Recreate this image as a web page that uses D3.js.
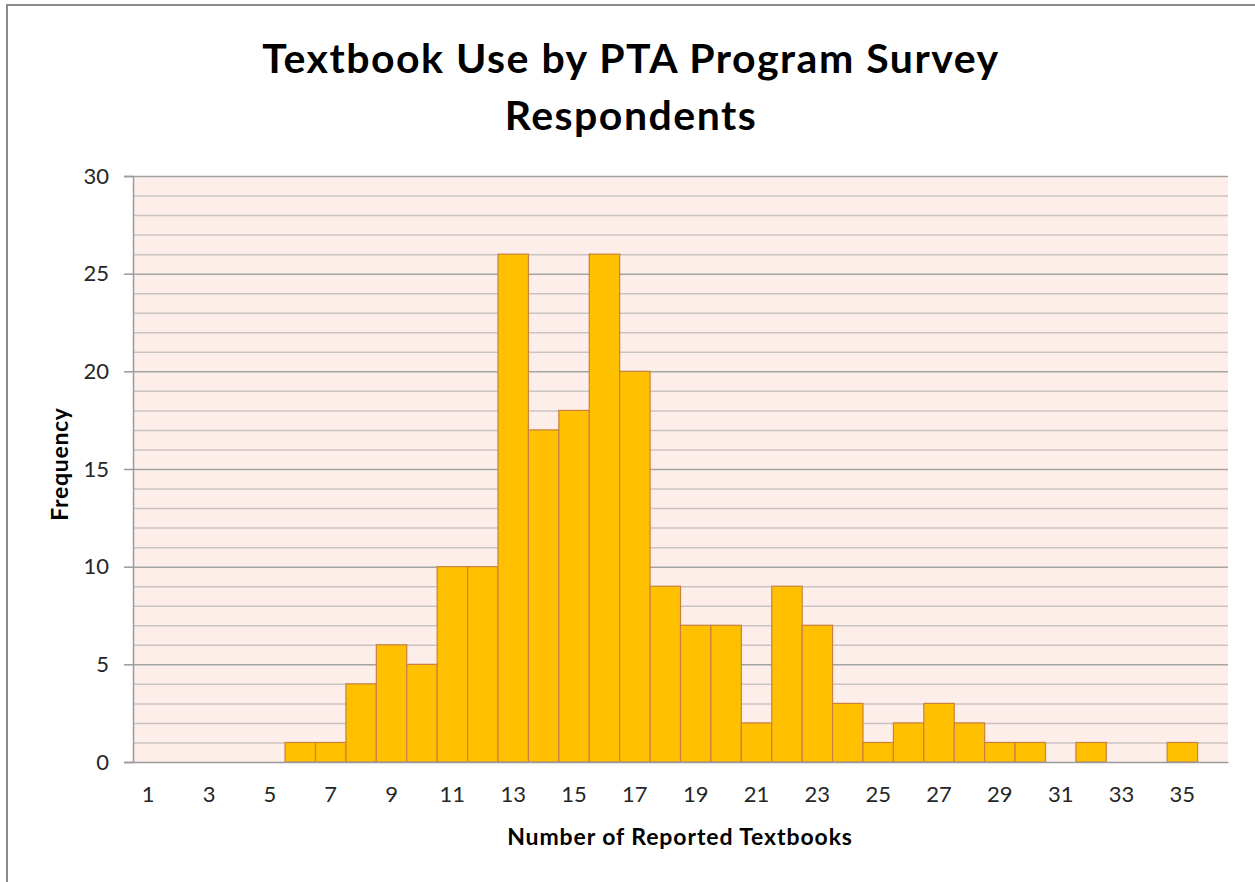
<!DOCTYPE html>
<html>
<head>
<meta charset="utf-8">
<script src="https://cdn.jsdelivr.net/npm/d3@7"></script>
<style>
  body { margin: 0; background: #fff; }
  svg { display: block; }
</style>
</head>
<body>
<div id="chart"></div>
<script>
// number of textbooks reported (1..36) and how many respondents reported it
const textbooks = d3.range(1, 37);
const frequency = [0, 0, 0, 0, 0, 1, 1, 4, 6, 5, 10, 10, 26, 17, 18, 26, 20, 9,
  7, 7, 2, 9, 7, 3, 1, 2, 3, 2, 1, 1, 0, 1, 0, 0, 1, 0];
const xTickLabels = [1, 3, 5, 7, 9, 11, 13, 15, 17, 19, 21, 23, 25, 27, 29, 31, 33, 35];
const yTicks = [0, 5, 10, 15, 20, 25, 30];

const width = 1255;
const height = 882;
const margin = { top: 176, right: 27, bottom: 120, left: 133 };
const font = 'Lato, "Open Sans", sans-serif';

const svg = d3.select('#chart')
  .append('svg')
  .attr('width', width)
  .attr('height', height);

// chart frame (only top and left edges are inside the picture)
svg.append('rect')
  .attr('x', 7)
  .attr('y', 5)
  .attr('width', width + 20)
  .attr('height', height + 20)
  .attr('fill', 'none')
  .attr('stroke', '#8c8c8c')
  .attr('stroke-width', 2);

const x = d3.scaleBand()
  .domain(textbooks)
  .range([margin.left, width - margin.right])
  .padding(0);

const y = d3.scaleLinear()
  .domain([0, 30])
  .range([height - margin.bottom, margin.top]);

// plot background
svg.append('rect')
  .attr('x', margin.left)
  .attr('y', margin.top)
  .attr('width', width - margin.left - margin.right)
  .attr('height', height - margin.top - margin.bottom)
  .attr('fill', '#fdeee9');

// minor gridlines every 1, major every 5
svg.append('g')
  .selectAll('line')
  .data(d3.range(1, 31))
  .join('line')
  .attr('x1', margin.left)
  .attr('x2', width - margin.right)
  .attr('y1', d => y(d) + 0.5)
  .attr('y2', d => y(d) + 0.5)
  .attr('stroke', d => (d % 5 === 0 ? '#a3a3a3' : '#c9c4c4'))
  .attr('stroke-width', 1.5);

// bars
svg.append('g')
  .selectAll('rect')
  .data(textbooks.map((t, i) => ({ t, v: frequency[i] })).filter(d => d.v > 0))
  .join('rect')
  .attr('x', d => x(d.t))
  .attr('y', d => y(d.v))
  .attr('width', x.bandwidth())
  .attr('height', d => y(0) - y(d.v))
  .attr('fill', '#ffc000')
  .attr('stroke', '#c8823f')
  .attr('stroke-width', 1.2);

// y axis
const yAxis = svg.append('g')
  .attr('transform', `translate(${margin.left},0)`)
  .call(d3.axisLeft(y).tickValues(yTicks).tickSize(9).tickPadding(15));
yAxis.select('.domain').attr('stroke', '#9a9a9a').attr('stroke-width', 1.5);
yAxis.selectAll('.tick line').attr('stroke', '#9a9a9a').attr('stroke-width', 1.5);
yAxis.selectAll('text')
  .attr('font-family', font)
  .attr('font-size', 22)
  .attr('fill', '#262626');

// x axis
const xAxis = svg.append('g')
  .attr('transform', `translate(0,${height - margin.bottom})`)
  .call(d3.axisBottom(x).tickValues(xTickLabels).tickSize(0).tickPadding(24));
xAxis.select('.domain').attr('stroke', '#9a9a9a').attr('stroke-width', 1.5);
xAxis.selectAll('text')
  .attr('font-family', font)
  .attr('font-size', 22)
  .attr('fill', '#262626');

// titles
const title = svg.append('text')
  .attr('x', 631)
  .attr('y', 73)
  .attr('text-anchor', 'middle')
  .attr('font-family', font)
  .attr('font-weight', 'bold')
  .attr('font-size', 41)
  .attr('letter-spacing', 1.5)
  .attr('fill', '#000');
title.append('tspan').attr('x', 631).text('Textbook Use by PTA Program Survey');
title.append('tspan').attr('x', 631).attr('dy', 57).text('Respondents');

svg.append('text')
  .attr('x', 680)
  .attr('y', 845)
  .attr('text-anchor', 'middle')
  .attr('font-family', font)
  .attr('font-weight', 'bold')
  .attr('font-size', 23)
  .attr('letter-spacing', 0.9)
  .attr('fill', '#000')
  .text('Number of Reported Textbooks');

svg.append('text')
  .attr('transform', 'translate(68,464) rotate(-90)')
  .attr('text-anchor', 'middle')
  .attr('font-family', font)
  .attr('font-weight', 'bold')
  .attr('font-size', 23)
  .attr('letter-spacing', 0.7)
  .attr('fill', '#000')
  .text('Frequency');
</script>
</body>
</html>
